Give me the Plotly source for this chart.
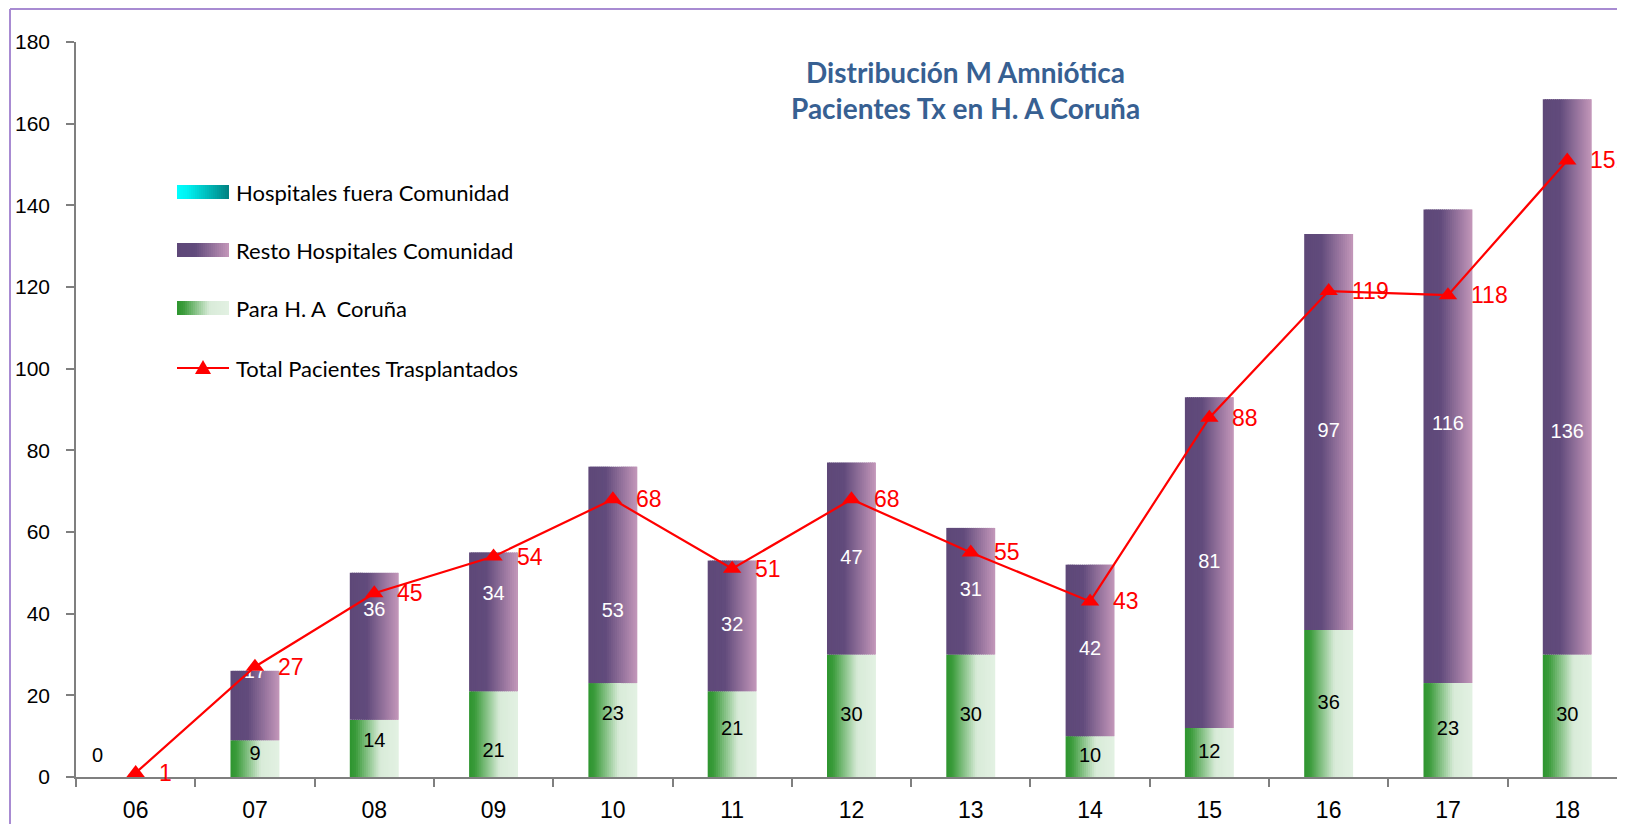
import plotly.graph_objects as go

# ---------------- data ----------------
years = ["06", "07", "08", "09", "10", "11", "12", "13", "14", "15", "16", "17", "18"]
fuera_comunidad = [0, 0, 0, 0, 0, 0, 0, 0, 0, 0, 0, 0, 0]
resto_comunidad = [0, 17, 36, 34, 53, 32, 47, 31, 42, 81, 97, 116, 136]
para_coruna = [0, 9, 14, 21, 23, 21, 30, 30, 10, 12, 36, 23, 30]
total_trasplantados = [1, 27, 45, 54, 68, 51, 68, 55, 43, 88, 119, 118, 151]

# label nudges (value units) as placed in the original
para_label_nudge = [0, 0.9, 1.6, -4.4, 3.7, 1.0, 0, 0, 0, 0, 0, 0, 0]
resto_label_nudge = [0, 8.0, 8.7, 6.6, -9.1, 0, 0, 0, 0, 0, 0, 5.2, -13.7]

series_names = ["Hospitales fuera Comunidad", "Resto Hospitales Comunidad",
                "Para H. A  Coruña", "Total Pacientes Trasplantados"]
title_text = "Distribución M Amniótica<br>Pacientes Tx en H. A Coruña"

# ---------------- layout geometry ----------------
OFF = 8                      # page body margin
W, H = 1625 - OFF, 824 - OFF
ML, MR, MT = 76 - OFF, 0, 42 - OFF
MB = H - (777 - OFF)
PW, PH = W - ML - MR, H - MT - MB
YMAX = 180
CAT_PX = 119.3


def px2x(sx):
    return (sx - OFF - ML) / PW


def px2y(sy):
    return (H - MB - (sy - OFF)) / PH


def hex2rgb(h):
    h = h.lstrip("#")
    return tuple(int(h[i:i + 2], 16) for i in (0, 2, 4))


def grad(stops, t):
    for (p0, c0), (p1, c1) in zip(stops, stops[1:]):
        if p0 <= t <= p1:
            f = 0 if p1 == p0 else (t - p0) / (p1 - p0)
            a, b = hex2rgb(c0), hex2rgb(c1)
            r = [round(a[k] + (b[k] - a[k]) * f) for k in range(3)]
            return "rgb(%d,%d,%d)" % tuple(r)
    return stops[-1][1]


purple_stops = [(0, "#5E4878"), (0.35, "#614B7C"), (1, "#C497BA")]
green_stops = [(0, "#2E952F"), (0.12, "#3A9B3A"), (0.62, "#D8EBD8"), (1, "#E3F1E3")]
teal_stops = [(0, "#00FFFF"), (0.2, "#00F2F2"), (1, "#008080")]

BW = 0.41
N = 24

fig = go.Figure()

base_purple = list(para_coruna)
base_teal = [p + r for p, r in zip(para_coruna, resto_comunidad)]


def add_gradient_bars(values, base, stops):
    for i in range(N):
        t = (i + 0.5) / N
        off = -BW / 2 + i * BW / N
        wid = BW / N * (1.6 if i < N - 1 else 1.0)
        fig.add_trace(go.Bar(
            x=years, y=values, base=base, offset=off, width=wid,
            marker=dict(color=grad(stops, t), line=dict(width=0)),
            hoverinfo="skip", showlegend=False))


add_gradient_bars(para_coruna, [0] * len(years), green_stops)
add_gradient_bars(resto_comunidad, base_purple, purple_stops)
add_gradient_bars(fuera_comunidad, base_teal, teal_stops)

LABEL_FONT = "Liberation Sans, Arial, sans-serif"
TEXT_FONT = "Lato, Open Sans, sans-serif"

# bar value labels
idx = [i for i in range(len(years)) if para_coruna[i] > 0]
fig.add_trace(go.Scatter(
    x=[years[i] for i in idx],
    y=[para_coruna[i] / 2 + para_label_nudge[i] for i in idx],
    text=[str(para_coruna[i]) for i in idx],
    mode="text", textfont=dict(family=LABEL_FONT, size=20, color="black"),
    hoverinfo="skip", showlegend=False))
idx = [i for i in range(len(years)) if resto_comunidad[i] > 0]
fig.add_trace(go.Scatter(
    x=[years[i] for i in idx],
    y=[para_coruna[i] + resto_comunidad[i] / 2 + resto_label_nudge[i] for i in idx],
    text=[str(resto_comunidad[i]) for i in idx],
    mode="text", textfont=dict(family=LABEL_FONT, size=20, color="white"),
    hoverinfo="skip", showlegend=False))

# total line
fig.add_trace(go.Scatter(
    x=years, y=total_trasplantados, mode="lines+markers",
    line=dict(color="#FF0000", width=2.2),
    marker=dict(symbol="triangle-up", size=16, color="#FF0000"),
    name=series_names[3], showlegend=False))

annotations = []
for i, v in enumerate(total_trasplantados):
    annotations.append(dict(
        x=i, y=v, xref="x", yref="y", text=str(v), showarrow=False,
        xanchor="left", yanchor="middle", xshift=21,
        font=dict(family=LABEL_FONT, size=23, color="#FF0000")))

# zero label of the first year
annotations.append(dict(
    x=0, y=para_coruna[0] / 2, xref="x", yref="y", text=str(para_coruna[0]),
    showarrow=False, xshift=-38, yshift=22,
    font=dict(family=LABEL_FONT, size=20, color="black")))

# title
annotations.append(dict(
    x=px2x(966), y=px2y(90), xref="paper", yref="paper", text="<b>" + title_text + "</b>",
    showarrow=False, xanchor="center", yanchor="middle", align="center",
    font=dict(family=TEXT_FONT, size=28, color="#376092")))

# custom legend
shapes = []
rows_py = [192, 250, 308, 368]
sx0, sx1 = 177, 229
for r, stops in enumerate([teal_stops, purple_stops, green_stops]):
    py = rows_py[r]
    M = 26
    for k in range(M):
        a = sx0 + (sx1 - sx0) * k / M
        b = sx0 + (sx1 - sx0) * (k + 1.6 if k < M - 1 else k + 1) / M
        shapes.append(dict(type="rect", xref="paper", yref="paper",
                           x0=px2x(a), x1=px2x(b), y0=px2y(py + 7), y1=px2y(py - 7),
                           fillcolor=grad(stops, (k + 0.5) / M), line=dict(width=0),
                           layer="above"))
py = rows_py[3]
shapes.append(dict(type="line", xref="paper", yref="paper",
                   x0=px2x(sx0), x1=px2x(sx1), y0=px2y(py), y1=px2y(py),
                   line=dict(color="#FF0000", width=2.2)))
cx = (sx0 + sx1) / 2
shapes.append(dict(type="path", xref="paper", yref="paper",
                   path="M %f %f L %f %f L %f %f Z" % (
                       px2x(cx - 8), px2y(py + 6), px2x(cx + 8), px2y(py + 6),
                       px2x(cx), px2y(py - 8)),
                   fillcolor="#FF0000", line=dict(width=0)))
for r, name in enumerate(series_names):
    annotations.append(dict(
        x=px2x(234), y=px2y(rows_py[r]), xref="paper", yref="paper", text=name,
        showarrow=False, xanchor="left", yanchor="middle",
        font=dict(family=TEXT_FONT, size=22, color="black")))

# outer frame (purple border of the original)
frame_color = "#A88BD2"
shapes.append(dict(type="line", xref="paper", yref="paper",
                   x0=px2x(10), x1=px2x(1640), y0=px2y(9), y1=px2y(9),
                   line=dict(color=frame_color, width=2)))
shapes.append(dict(type="line", xref="paper", yref="paper",
                   x0=px2x(10), x1=px2x(10), y0=px2y(9), y1=px2y(840),
                   line=dict(color=frame_color, width=2)))

fig.update_layout(
    width=W, height=H,
    margin=dict(l=ML, r=MR, t=MT, b=MB, autoexpand=False),
    barmode="overlay",
    paper_bgcolor="white", plot_bgcolor="white",
    showlegend=False,
    annotations=annotations,
    shapes=shapes,
    xaxis=dict(
        type="category", range=[-0.5, -0.5 + PW / CAT_PX],
        showline=True, linecolor="#7F7F7F", linewidth=1.5,
        ticks="outside", ticklen=8, tickcolor="#7F7F7F", tickwidth=1.5,
        tickson="boundaries", showgrid=False, zeroline=False,
        tickfont=dict(family=LABEL_FONT, size=23, color="black"),
        ticklabelstandoff=12,
    ),
    yaxis=dict(
        range=[0, YMAX], dtick=20, tick0=0,
        showline=True, linecolor="#7F7F7F", linewidth=1.5,
        ticks="outside", ticklen=8, tickcolor="#7F7F7F", tickwidth=1.5,
        showgrid=False, zeroline=False,
        tickfont=dict(family=LABEL_FONT, size=21, color="black"),
        ticklabelstandoff=12,
    ),
)

fig.write_html("out.html")
